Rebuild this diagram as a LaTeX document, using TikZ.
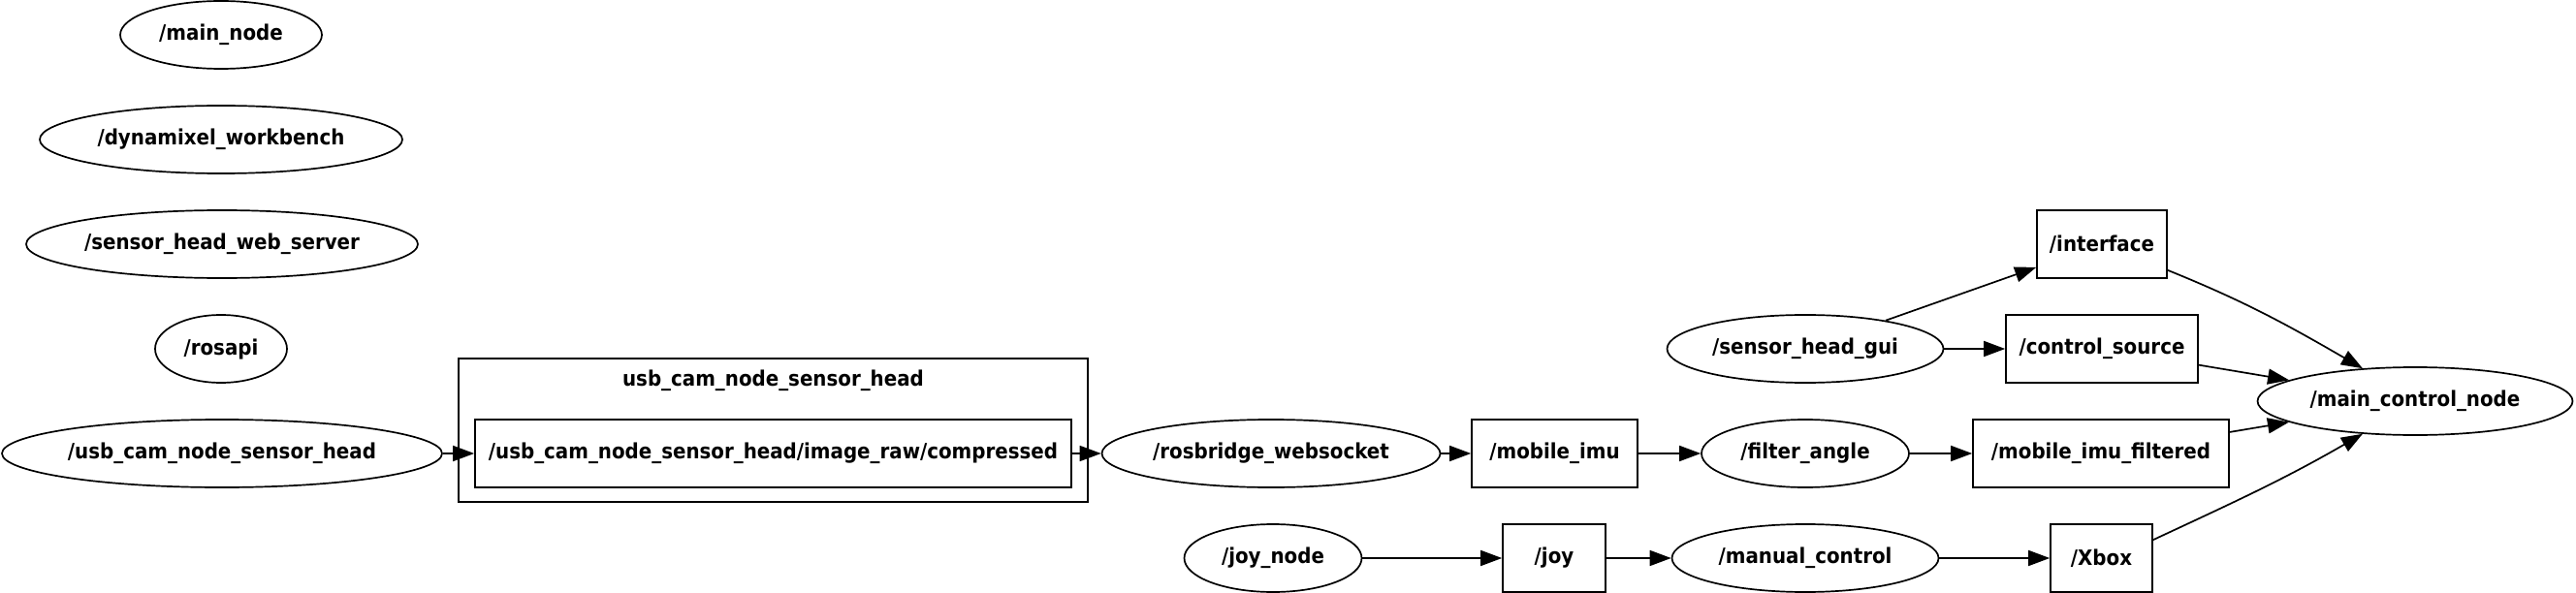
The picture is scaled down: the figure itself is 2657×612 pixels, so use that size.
\documentclass[tikz,border=0pt]{standalone}
\usepackage{fontspec}
\newfontfamily\gfont[FakeStretch=0.91]{DejaVu Sans}
\usetikzlibrary{shapes.geometric,arrows.meta}
\begin{document}
\begin{tikzpicture}[x=1pt,y=-1pt,
  base/.style={draw, line width=1.7pt, inner sep=0pt, font=\gfont\bfseries\fontsize{21.8}{26}\selectfont},
  nd/.style={base, ellipse, minimum height=70pt},
  tp/.style={base, rectangle, minimum height=70pt},
  lbl/.style={inner sep=0pt, font=\gfont\bfseries\fontsize{21.8}{26}\selectfont},
  edge/.style={line width=1.7pt, -{Triangle[length=22pt,width=16pt]}}
]
\useasboundingbox (0,0) rectangle (2657,612);
% isolated nodes
\node[nd, minimum width=208pt] (mainnode) at (228,36) {/main\_node};
\node[nd, minimum width=374pt] (dyn) at (228,144) {/dynamixel\_workbench};
\node[nd, minimum width=404pt] (web) at (229,252) {/sensor\_head\_web\_server};
\node[nd, minimum width=136pt] (rosapi) at (228,360) {/rosapi};
% main row
\node[nd, minimum width=454pt] (usb) at (229,468) {/usb\_cam\_node\_sensor\_head};
\node[draw, line width=1.7pt, minimum width=649pt, minimum height=148pt, inner sep=0pt] (cluster) at (797.5,444) {};
\node[lbl] (clusterlbl) at (797.5,393) {usb\_cam\_node\_sensor\_head};
\node[tp, minimum width=615pt] (img) at (797.5,468) {/usb\_cam\_node\_sensor\_head/image\_raw/compressed};
\node[nd, minimum width=349pt] (rosbridge) at (1311,468) {/rosbridge\_websocket};
\node[tp, minimum width=171pt] (mimu) at (1603.5,468) {/mobile\_imu};
\node[nd, minimum width=214pt] (filter) at (1862,468) {/filter\_angle};
\node[tp, minimum width=264pt] (mimuf) at (2167,468) {/mobile\_imu\_filtered};
% joy row
\node[nd, minimum width=183pt] (joynode) at (1313,576) {/joy\_node};
\node[tp, minimum width=106pt] (joy) at (1603,576) {/joy};
\node[nd, minimum width=275pt] (manual) at (1862,576) {/manual\_control};
\node[tp, minimum width=105pt] (xbox) at (2167.5,576) {/Xbox};
% gui row
\node[nd, minimum width=285pt] (gui) at (1862,360) {/sensor\_head\_gui};
\node[tp, minimum width=134pt] (iface) at (2168,252) {/interface};
\node[tp, minimum width=198pt] (csrc) at (2168,360) {/control\_source};
\node[nd, minimum width=325pt] (mcn) at (2491,414) {/main\_control\_node};
% edges
\draw[edge] (usb) -- (img);
\draw[edge] (img) -- (rosbridge);
\draw[edge] (rosbridge) -- (mimu);
\draw[edge] (mimu) -- (filter);
\draw[edge] (filter) -- (mimuf);
\draw[edge] (mimuf) -- (mcn);
\draw[edge] (joynode) -- (joy);
\draw[edge] (joy) -- (manual);
\draw[edge] (manual) -- (xbox);
\draw[edge] (gui) -- (iface);
\draw[edge] (gui) -- (csrc);
\draw[edge] (csrc) -- (mcn);
\draw[edge] ([yshift=9pt]iface.south east) to[out=-22, in=150] (mcn.148);
\draw[edge] ([yshift=-17pt]xbox.north east) to[out=25, in=210] (mcn.212);
\end{tikzpicture}
\end{document}
